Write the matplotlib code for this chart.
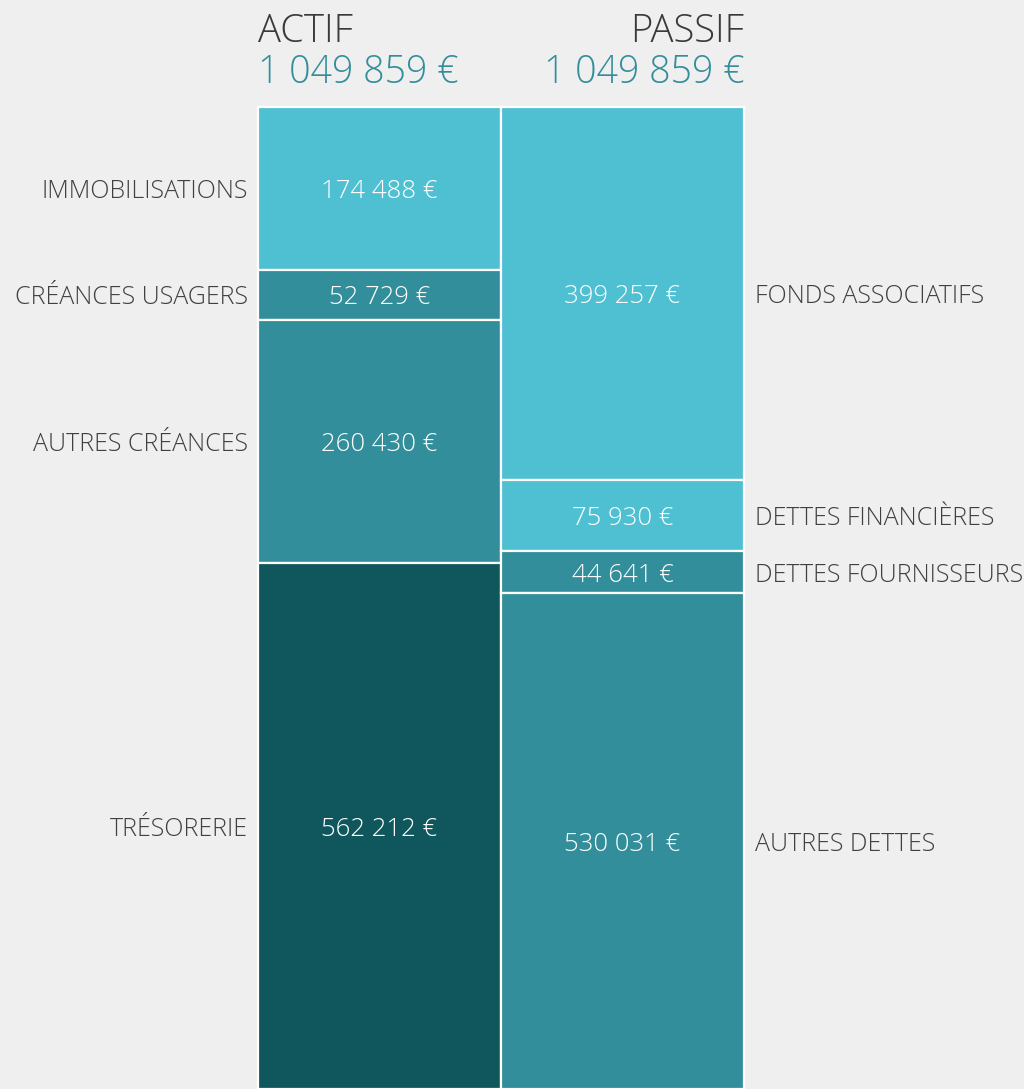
import matplotlib
matplotlib.use("Agg")
import matplotlib.pyplot as plt

# donnees du bilan
actif_labels = ["IMMOBILISATIONS", "CRÉANCES USAGERS", "AUTRES CRÉANCES", "TRÉSORERIE"]
actif_values = [174488, 52729, 260430, 562212]
actif_colors = ["#4fc0d1", "#328e9b", "#328e9b", "#10575d"]

passif_labels = ["FONDS ASSOCIATIFS", "DETTES FINANCIÈRES", "DETTES FOURNISSEURS", "AUTRES DETTES"]
passif_values = [399257, 75930, 44641, 530031]
passif_colors = ["#4fc0d1", "#4fc0d1", "#328e9b", "#328e9b"]


def fmt(v):
    return f"{v:,}".replace(",", " ") + " €"


plt.rcParams["font.family"] = ["Open Sans", "DejaVu Sans"]

W, H = 1024, 1089
fig = plt.figure(figsize=(W / 100, H / 100), dpi=100, facecolor="#efefef")
bar_top = 107
ax = fig.add_axes([0, 0, 1, (H - bar_top) / H])
ax.set_facecolor("none")
total = sum(actif_values)
ax.set_xlim(0, W)
ax.set_ylim(total, 0)
ax.axis("off")

px = total / (H - bar_top)  # une unite de pixel en valeur
bars = [(258, 243, actif_labels, actif_values, actif_colors, "left"),
        (501, 243, passif_labels, passif_values, passif_colors, "right")]

for x0, w, labels, values, colors, side in bars:
    y = 0
    for lab, v, c in zip(labels, values, colors):
        ax.bar(x0, v, width=w, bottom=y, align="edge", color=c,
               edgecolor="white", linewidth=1.6, clip_on=False)
        mid = y + v / 2 + 3 * px
        ax.text(x0 + w / 2, mid, fmt(v), color="white", fontsize=18.5,
                fontweight="light", ha="center", va="center")
        if side == "left":
            ax.text(x0 - 10, mid, lab, color="#404040", fontsize=18,
                    fontweight="light", ha="right", va="center")
        else:
            ax.text(x0 + w + 11, mid, lab, color="#404040", fontsize=18,
                    fontweight="light", ha="left", va="center")
        y += v

# titres
fig.text(258 / W, 1 - 42 / H, "ACTIF", fontsize=27.5, color="#3a3a3a",
         fontweight="light", ha="left", va="baseline")
fig.text(744 / W, 1 - 42 / H, "PASSIF", fontsize=27.5, color="#3a3a3a",
         fontweight="light", ha="right", va="baseline")
fig.text(258 / W, 1 - 83 / H, fmt(sum(actif_values)), fontsize=27, color="#338e9c",
         fontweight="light", ha="left", va="baseline")
fig.text(744 / W, 1 - 83 / H, fmt(sum(passif_values)), fontsize=27, color="#338e9c",
         fontweight="light", ha="right", va="baseline")

fig.savefig("out.png", dpi=100, facecolor=fig.get_facecolor())
